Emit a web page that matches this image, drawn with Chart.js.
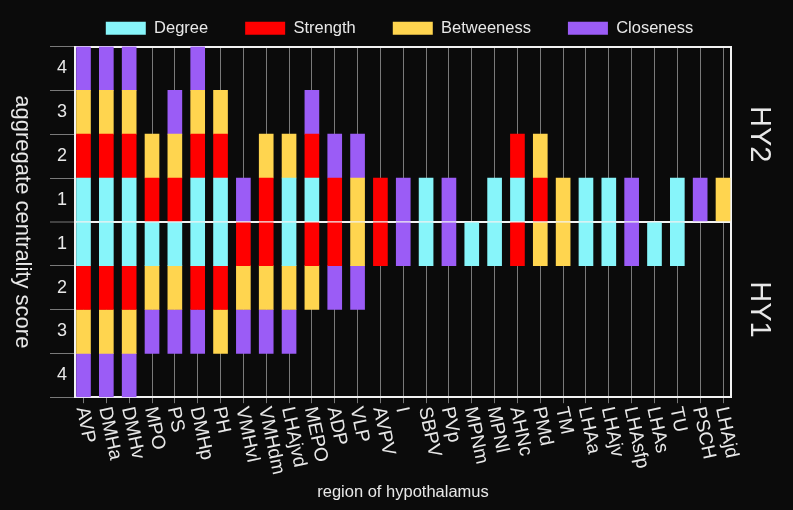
<!DOCTYPE html>
<html>
<head>
<meta charset="utf-8">
<script src="https://cdn.jsdelivr.net/npm/chart.js@4.4.1/dist/chart.umd.min.js"></script>
<style>
  html, body { margin: 0; padding: 0; background: #0b0b0b; }
  #wrap { width: 793px; height: 510px; }
  canvas { display: block; }
</style>
</head>
<body>
<div id="wrap"><canvas id="c" width="793" height="510"></canvas></div>
<script>
const categories = ['AVP','DMHa','DMHv','MPO','PS','DMHp','PH','VMHvl','VMHdm','LHAjvd','MEPO','ADP','VLP','AVPV','I','SBPV','PVp','MPNm','MPNl','AHNc','PMd','TM','LHAa','LHAjv','LHAsfp','LHAs','TU','PSCH','LHAjd'];
const measures = ['Degree', 'Strength', 'Betweeness', 'Closeness'];

// HY2 (upper half): 1 = measure contributes one point
const hy2Degree     = [1,1,1,0,0,1,1,0,0,1,1,0,0,0,0,1,0,0,1,1,0,0,1,1,0,0,1,0,0];
const hy2Strength   = [1,1,1,1,1,1,1,0,1,0,1,1,0,1,0,0,0,0,0,1,1,0,0,0,0,0,0,0,0];
const hy2Betweeness = [1,1,1,1,1,1,1,0,1,1,0,0,1,0,0,0,0,0,0,0,1,1,0,0,0,0,0,0,1];
const hy2Closeness  = [1,1,1,0,1,1,0,1,0,0,1,1,1,0,1,0,1,0,0,0,0,0,0,0,1,0,0,1,0];

// HY1 (lower half)
const hy1Degree     = [1,1,1,1,1,1,1,0,0,1,0,0,0,0,0,1,0,1,1,0,0,0,1,1,0,1,1,0,0];
const hy1Strength   = [1,1,1,0,0,1,1,1,1,0,1,1,0,1,0,0,0,0,0,1,0,0,0,0,0,0,0,0,0];
const hy1Betweeness = [1,1,1,1,1,0,1,1,1,1,1,0,1,0,0,0,0,0,0,0,1,1,0,0,0,0,0,0,0];
const hy1Closeness  = [1,1,1,1,1,1,0,1,1,1,0,1,1,0,1,0,1,0,0,0,0,0,0,0,1,0,0,0,0];

const yTickLabels = ['1','2','3','4'];
const sideLabels = ['HY2', 'HY1'];
const yTitle = 'aggregate centrality score';
const xTitle = 'region of hypothalamus';

const colors = ['#87F5FA', '#FF0000', '#FFD54F', '#9B5CF6'];
const FONT = '"Liberation Sans", Arial, Helvetica, sans-serif';
const TEXT = '#e8e8e8';

Chart.defaults.font.family = FONT;
Chart.defaults.color = TEXT;

const hy2 = [hy2Degree, hy2Strength, hy2Betweeness, hy2Closeness];
const hy1 = [hy1Degree, hy1Strength, hy1Betweeness, hy1Closeness];

function mk(arr, sign, k, hidden) {
  return {
    label: measures[k],
    data: arr.map((v, i) => ({ x: i, y: v ? sign * v : null })),
    backgroundColor: colors[k],
    borderColor: colors[k],
    borderWidth: 0,
    stack: 'all',
    barThickness: 14,
    _legend: !hidden
  };
}
const datasets = [];
hy2.forEach((a, k) => datasets.push(mk(a, 1, k, false)));
hy1.forEach((a, k) => datasets.push(mk(a, -1, k, true)));

const xMin = -0.372, xMax = 28.35;

const textPlugin = {
  id: 'rotatedText',
  afterDraw(chart) {
    const { ctx, chartArea, scales } = chart;
    const x = scales.x;
    ctx.save();
    ctx.fillStyle = TEXT;
    ctx.font = '19px ' + FONT;
    ctx.textAlign = 'left';
    ctx.textBaseline = 'middle';
    categories.forEach((c, i) => {
      const px = x.getPixelForValue(i);
      ctx.save();
      ctx.translate(px - 2, chartArea.bottom + 10);
      ctx.rotate(78 * Math.PI / 180);
      ctx.fillText(c, 0, 0);
      ctx.restore();
    });
    ctx.font = '22px ' + FONT;
    ctx.textAlign = 'center';
    ctx.save();
    ctx.translate(22, (chartArea.top + chartArea.bottom) / 2);
    ctx.rotate(Math.PI / 2);
    ctx.fillText(yTitle, 0, 0);
    ctx.restore();
    ctx.restore();
  }
};

new Chart(document.getElementById('c'), {
  type: 'bar',
  data: { datasets },
  plugins: [textPlugin],
  options: {
    responsive: false,
    animation: false,
    devicePixelRatio: 1,
    layout: { padding: { left: 6, top: -17, right: 0, bottom: 0 } },
    plugins: {
      tooltip: { enabled: false },
      legend: {
        position: 'top',
        align: 'center',
        labels: {
          boxWidth: 40,
          boxHeight: 13,
          padding: 37,
          color: TEXT,
          font: { size: 16.5 },
          filter: (item, data) => item.datasetIndex < 4
        }
      }
    },
    scales: {
      x: {
        type: 'linear',
        position: 'bottom',
        min: xMin,
        max: xMax,
        offset: false,
        stacked: true,
        afterBuildTicks: s => { s.ticks = categories.map((_, i) => ({ value: i })); },
        ticks: { display: false },
        grid: {
          offset: false,
          color: '#7a7a7a',
          lineWidth: 1,
          tickColor: '#7a7a7a',
          tickLength: 6,
          drawOnChartArea: true
        },
        border: { display: true, color: '#f2f2f2', width: 2 },
        title: {
          display: true,
          text: xTitle,
          color: TEXT,
          font: { size: 16.5 },
          padding: { top: 79, bottom: 8 }
        }
      },
      xTop: {
        type: 'linear',
        position: 'top',
        display: true,
        min: xMin,
        max: xMax,
        ticks: { display: false },
        grid: { display: false, drawTicks: false },
        border: { display: true, color: '#f2f2f2', width: 2 }
      },
      y: {
        type: 'linear',
        position: 'left',
        min: -4,
        max: 4,
        stacked: true,
        z: 1,
        afterBuildTicks: s => {
          const t = [];
          for (let v = -4; v <= 4.001; v += 0.5) t.push({ value: v });
          s.ticks = t;
        },
        afterFit: s => { s.width = 69; },
        ticks: {
          autoSkip: false,
          padding: -17,
          color: TEXT,
          font: { size: 18 },
          callback: v => Number.isInteger(v) ? '' : yTickLabels[Math.ceil(Math.abs(v)) - 1]
        },
        grid: {
          drawOnChartArea: true,
          tickLength: 25,
          color: c => (c.tick && c.tick.value === 0) ? '#f2f2f2' : 'rgba(0,0,0,0)',
          lineWidth: c => (c.tick && c.tick.value === 0) ? 2 : 1,
          tickColor: c => (c.tick && Number.isInteger(c.tick.value)) ? '#7a7a7a' : 'rgba(0,0,0,0)',
          tickWidth: 1
        },
        border: { display: true, color: '#f2f2f2', width: 2 }
      },
      yR: {
        type: 'linear',
        position: 'right',
        display: true,
        min: -4,
        max: 4,
        afterBuildTicks: s => { s.ticks = [{ value: -2 }, { value: 2 }]; },
        afterFit: s => { s.width = 62; },
        ticks: {
          autoSkip: false,
          minRotation: -90,
          maxRotation: -90,
          crossAlign: 'center',
          padding: 0,
          color: TEXT,
          font: { size: 29 },
          callback: v => v > 0 ? sideLabels[0] : sideLabels[1]
        },
        grid: { display: false, drawTicks: false },
        border: { display: true, color: '#f2f2f2', width: 2 }
      }
    }
  }
});
</script>
</body>
</html>
